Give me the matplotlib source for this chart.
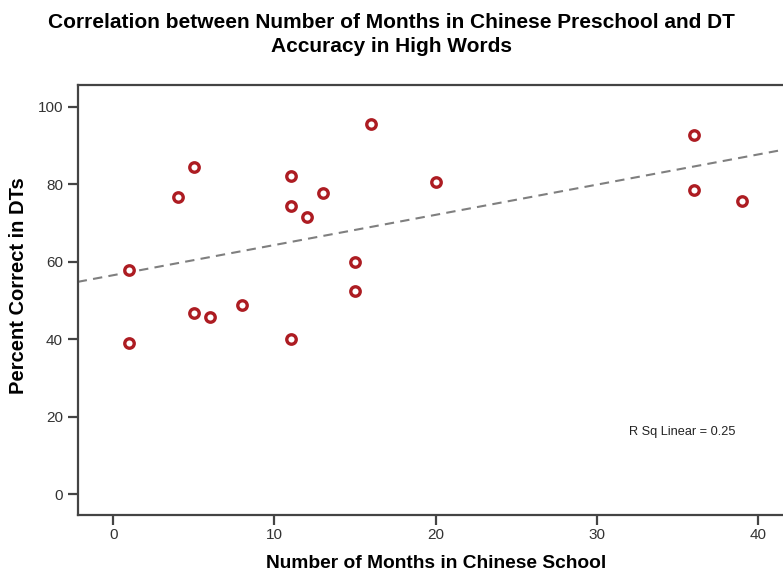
import numpy as np
import matplotlib
matplotlib.use("Agg")
import matplotlib.pyplot as plt
from matplotlib import font_manager

# Months spent in Chinese preschool vs. DT accuracy (%) on high words
months = [1, 1, 4, 5, 5, 6, 8, 11, 11, 11, 12, 13, 15, 15, 16, 20, 36, 36, 39]
percent_correct = [57.8, 38.9, 76.6, 84.4, 46.8, 45.8, 48.7, 82.1, 74.3, 40.1,
                   71.4, 77.7, 60.0, 52.4, 95.5, 80.5, 92.8, 78.6, 75.7]

x_ticks = [0, 10, 20, 30, 40]
y_ticks = [0, 20, 40, 60, 80, 100]

title = "Correlation between Number of Months in Chinese Preschool and DT\nAccuracy in High Words"
x_label = "Number of Months in Chinese School"
y_label = "Percent Correct in DTs"
fit_label = "R Sq Linear = 0.25"

names = {f.name for f in font_manager.fontManager.ttflist}
narrow = "Liberation Sans Narrow" if "Liberation Sans Narrow" in names else "Liberation Sans"

plt.rcParams["font.family"] = ["Liberation Sans", "DejaVu Sans"]

fig = plt.figure(figsize=(7.83, 5.71), dpi=100)
ax = fig.add_axes([0.0992, 0.098, 0.9008, 0.7526])

x = np.array(months, dtype=float)
y = np.array(percent_correct, dtype=float)

xmin, xmax = -2.2, 41.52
ax.set_xlim(xmin, xmax)
ax.set_ylim(-5.37, 105.5)

# least-squares fit line across the full x range
slope, intercept = np.polyfit(x, y, 1)
xs = np.array([xmin, xmax])
ax.plot(xs, intercept + slope * xs, color="#7f7f7f", lw=1.5,
        dashes=(4.5, 3), zorder=2)

ax.plot(x, y, linestyle="none", marker="o", markersize=6.8,
        markerfacecolor="white", markeredgecolor="#ad1c22",
        markeredgewidth=2.4, zorder=3)

ax.text(0.932, 0.193, fit_label, transform=ax.transAxes, ha="right",
        va="center", fontsize=9.2, family=narrow, color="#222222")

ax.set_xticks(x_ticks)
ax.set_yticks(y_ticks)
for lab in ax.get_xticklabels() + ax.get_yticklabels():
    lab.set_family(narrow)
    lab.set_fontsize(11)
    lab.set_color("#333333")
ax.tick_params(direction="out", length=7.5, width=1.6, color="#444444", pad=3)
ax.tick_params(axis="x", pad=1.5)

for side in ("left", "bottom", "top"):
    ax.spines[side].set_color("#444444")
    ax.spines[side].set_linewidth(1.6)
ax.spines["right"].set_visible(False)

ax.set_xlabel(x_label, fontsize=13.8, fontweight="bold")
ax.xaxis.set_label_coords(0.508, -0.094)
ax.set_ylabel(y_label, fontsize=14.5, fontweight="bold")
ax.yaxis.set_label_coords(-0.071, 0.533)

fig.text(0.5, 0.94, title, ha="center", va="center", fontsize=15.0,
         fontweight="bold", linespacing=1.3)

fig.savefig("out.png", dpi=100)
